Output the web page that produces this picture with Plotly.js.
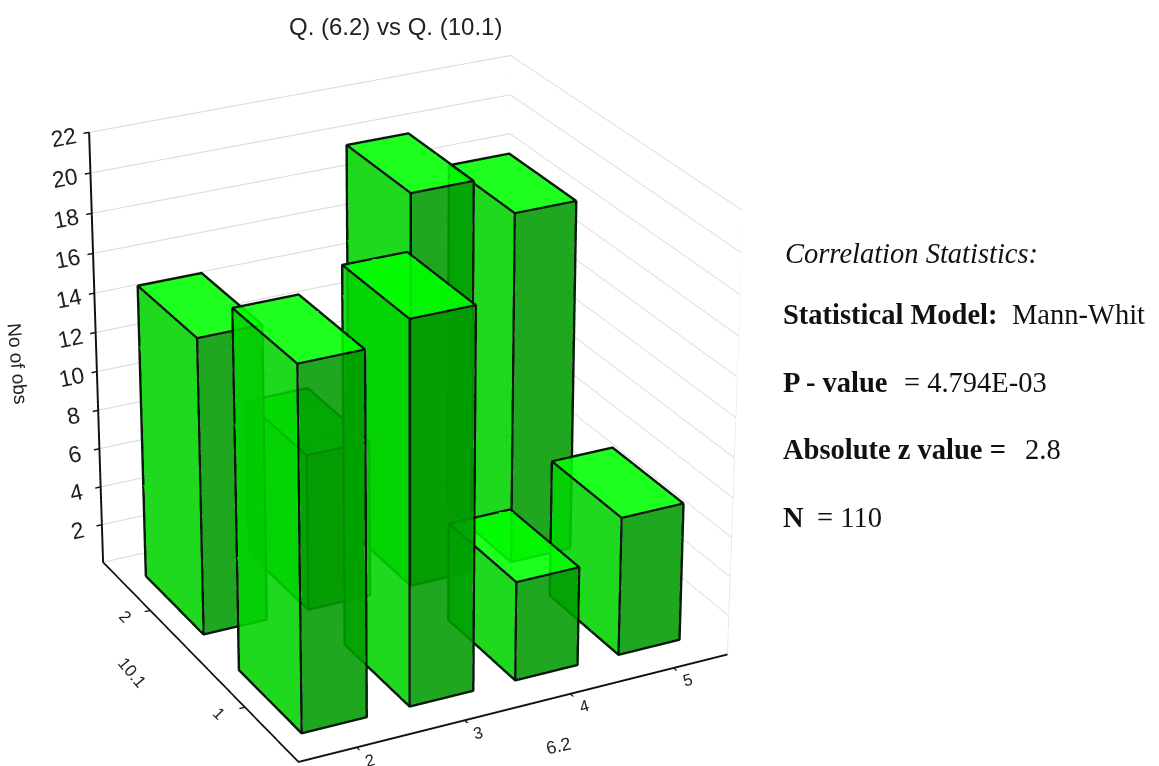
<!DOCTYPE html>
<html><head><meta charset="utf-8">
<script src="https://cdn.plot.ly/plotly-3.0.1.min.js"></script>
<style>html,body{margin:0;padding:0;background:#fff;overflow:hidden;width:1159px;height:766px}
#c{position:absolute}</style></head>
<body><div id="c"></div>
<script>
var xCats = [2,3,4,5];
var yCats = [1,2];
var row1 = [18,19,5,7];
var row2 = [15,8,20,18];
var rows = [row1,row2];
var zTicks = [2,4,6,8,10,12,14,16,18,20,22];
var barW = 0.6, barD = 0.63;
var xr=[1.47,5.53], yr=[0.47,2.53], zr=[0,22];
var colTop='#00ff00', colLeft='#00d300', colFront='#009c00';
var W=1520,H=3700,L=409-W/2,T=394-H/2;
var el=document.getElementById('c');el.style.left=L+'px';el.style.top=T+'px';
function px(v){return (v-L)/W;} function py(v){return 1-(v-T)/H;}
var traces=[];
function poly(X,Y,Z,I,J,K,col){return {type:'mesh3d',x:X,y:Y,z:Z,i:I,j:J,k:K,color:col,opacity:0.88,flatshading:true,
  lighting:{ambient:1,diffuse:0,specular:0,roughness:1,fresnel:0},hoverinfo:'skip',showscale:false};}
function line(X,Y,Z,col,w){return {type:'scatter3d',mode:'lines',x:X,y:Y,z:Z,line:{color:col,width:w},hoverinfo:'skip',showlegend:false};}
// walls frame
traces.push(line([xr[1],xr[1]],[yr[0],yr[0]],zr,'#d8d8d8',2));
traces.push(line([xr[1],xr[1]],[yr[1],yr[1]],zr,'#d8d8d8',2));
traces.push(line([xr[1],xr[1]],[yr[0],yr[1]],[0,0],'#d8d8d8',2));
traces.push(line([xr[0],xr[1]],[yr[1],yr[1]],[0,0],'#d8d8d8',2));
[1,0].forEach(function(r){
  [3,2,1,0].forEach(function(c){
    var v=rows[r][c], x0=xCats[c]-barW/2,x1=xCats[c]+barW/2,y0=yCats[r]-barD/2,y1=yCats[r]+barD/2;
    var X=[x0,x1,x1,x0,x0,x1,x1,x0],Y=[y0,y0,y1,y1,y0,y0,y1,y1],Z=[0,0,0,0,v,v,v,v];
    traces.push(poly(X,Y,Z,[0,0],[4,7],[7,3],colLeft));
    traces.push(poly(X,Y,Z,[0,0],[1,5],[5,4],colFront));
    traces.push(poly(X,Y,Z,[4,4],[5,6],[6,7],colTop));
    traces.push(line([x0,x1,x1,x0,x0,x0,x1,x1,x1,x0,x0,x0,x0],[y0,y0,y1,y1,y0,y0,y0,y0,y0,y0,y1,y1,y1],[v,v,v,v,v,0,0,v,0,0,0,v,v],'#061a08',5));
  });
});
var tf={family:'Liberation Sans, Arial, sans-serif',size:14,color:'#222'};
function ann(x,y,text,font,anchor,angle){return {xref:'paper',yref:'paper',x:px(x),y:py(y),text:text,showarrow:false,font:font,xanchor:anchor||'center',yanchor:'middle',textangle:angle||0};}
var ser=function(s){return {family:'Liberation Serif',size:s||28.5,color:'#111'};};
var ax={title:{text:''},showline:true,linecolor:'#111',linewidth:4,ticks:'outside',tickcolor:'#111',tickwidth:3,ticklen:5,zeroline:false,showbackground:false,showspikes:false};
var layout={width:W,height:H,margin:{l:0,r:0,t:0,b:0},paper_bgcolor:'#fff',showlegend:false,
 scene:{domain:{x:[0,1],y:[0,1]},aspectmode:'manual',aspectratio:{x:1.0,y:0.985,z:1.01},
  camera:{projection:{type:'perspective'},eye:{x:-3.85,y:-7.56,z:3.96},center:{x:0,y:0,z:0},up:{x:0,y:0,z:1}},
  xaxis:Object.assign({},ax,{range:xr,tickvals:xCats,ticktext:xCats.map(String),tickfont:tf,showgrid:false,tickangle:-15}),
  yaxis:Object.assign({},ax,{range:yr,tickvals:yCats,ticktext:yCats.map(String),tickfont:tf,showgrid:false,tickangle:45}),
  zaxis:Object.assign({},ax,{range:zr,tickvals:zTicks,ticks:'inside',tickfont:{family:tf.family,size:16.5,color:'#222'},showgrid:true,gridcolor:'#d8d8d8',gridwidth:2})
 },
 annotations:[
 ann(395,26,'Q. (6.2) vs Q. (10.1)',{family:'Liberation Sans',size:24,color:'#222'}),
 ann(18,363,'No of obs',{family:'Liberation Sans',size:19,color:'#222'},'center',85),
 ann(132,672,'10.1',{family:'Liberation Sans',size:17,color:'#222'},'center',50),
 ann(558,746,'6.2',{family:'Liberation Sans',size:18,color:'#222'},'center',-13),
 ann(783,254,'<i>Correlation Statistics:</i>',ser(),'left'),
 ann(781,314,'<b>Statistical Model:</b>',ser(),'left'),
 ann(1010,314,'Mann-Whit',ser(),'left'),
 ann(781,382,'<b>P - value</b>',ser(),'left'),
 ann(902,382,'= 4.794E-03',ser(),'left'),
 ann(781,450,'<b>Absolute z value =</b>',ser(),'left'),
 ann(1023,450,'2.8',ser(),'left'),
 ann(781,517,'<b>N</b>',ser(),'left'),
 ann(815,517,'= 110',ser(),'left')
 ]};
Plotly.newPlot('c',traces,layout,{displayModeBar:false});
</script></body></html>
